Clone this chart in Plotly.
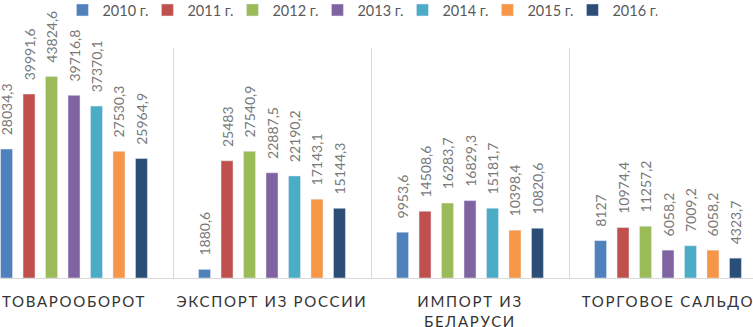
import plotly.graph_objects as go

categories = ["ТОВАРООБОРОТ", "ЭКСПОРТ ИЗ РОССИИ", "ИМПОРТ ИЗ|БЕЛАРУСИ", "ТОРГОВОЕ САЛЬДО"]
series_names = ["2010 г.", "2011 г.", "2012 г.", "2013 г.", "2014 г.", "2015 г.", "2016 г."]
v2010 = [28034.3, 1880.6, 9953.6, 8127]
v2011 = [39991.6, 25483, 14508.6, 10974.4]
v2012 = [43824.6, 27540.9, 16283.7, 11257.2]
v2013 = [39716.8, 22887.5, 16829.3, 6058.2]
v2014 = [37370.1, 22190.2, 15181.7, 7009.2]
v2015 = [27530.3, 17143.1, 10398.4, 6058.2]
v2016 = [25964.9, 15144.3, 10820.6, 4323.7]
series_values = [v2010, v2011, v2012, v2013, v2014, v2015, v2016]
colors = ["#4F81BD", "#C0504D", "#9BBB59", "#8064A2", "#4BACC6", "#F79646", "#2C4D75"]

def fmt(v):
    s = ("%g" % v)
    return "\u00a0\u00a0\u00a0" + s.replace(".", ",")

def spaced(label):
    return "<br>".join('<span style="letter-spacing:1.7px">%s</span>' % part for part in label.split("|"))

xs = list(range(len(categories)))
fig = go.Figure()
for name, vals, col in zip(series_names, series_values, colors):
    fig.add_trace(go.Bar(
        x=xs, y=vals, name=name, marker_color=col,
        text=[fmt(v) for v in vals], textposition="outside", textangle=-90,
        textfont=dict(family="Lato", size=14, color="#787878"),
        constraintext="none", cliponaxis=False,
    ))

fig.update_layout(
    width=753, height=327,
    margin=dict(l=0, r=0, t=48, b=49, autoexpand=False),
    paper_bgcolor="white", plot_bgcolor="white",
    barmode="group", bargap=0.205, bargroupgap=0.467,
    font=dict(family="Lato", color="#595959"),
    showlegend=True,
    legend=dict(orientation="h", x=0.478, xanchor="center", y=1.165, yanchor="middle",
                font=dict(family="Lato", size=14.5, color="#595959"),
                itemwidth=30, traceorder="normal", entrywidth=40, entrywidthmode="pixels"),
    xaxis=dict(
        range=[-0.5 + 25 / 198, 3.5 - 14 / 198],
        tickvals=xs, ticktext=[spaced(c) for c in categories],
        tickfont=dict(family="Lato", size=15, color="#333333"),
        ticklabeloverflow="allow",
        showgrid=False, zeroline=False,
        ticks="outside", ticklen=10, tickcolor="rgba(0,0,0,0)",
        showline=True, linecolor="#d9d9d9", linewidth=1,
        minor=dict(tickvals=[0.5, 1.5, 2.5], showgrid=True, gridcolor="#d9d9d9", gridwidth=1, ticks=""),
        automargin=False, fixedrange=True,
    ),
    yaxis=dict(range=[0, 50000], visible=False, showgrid=False, zeroline=False, automargin=False),
)

fig.write_html("out.html", config={"displayModeBar": False},
               post_script="document.body.style.margin='0';")
